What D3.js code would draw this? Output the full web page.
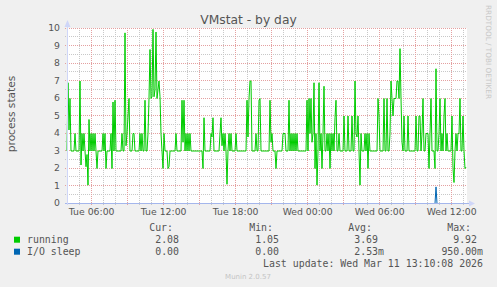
<!DOCTYPE html>
<html><head><meta charset="utf-8">
<script src="https://cdn.jsdelivr.net/npm/d3@7/dist/d3.min.js"></script>
<style>body{margin:0;background:#f0f0f0}svg{display:block}</style>
</head><body>
<svg id="c" width="497" height="287"></svg>
<script>
const title = "VMstat - by day";
const yAxisLabel = "process states";
const watermarkRight = "RRDTOOL / TOBI OETIKER";
const footer = "Munin 2.0.57";
const lastUpdate = "Last update: Wed Mar 11 13:10:08 2026";
const startTime = new Date(2026, 2, 10, 3, 56, 40);
const endTime = new Date(2026, 2, 11, 13, 16, 40);
const stepMinutes = 5;
const yTicks = [0,1,2,3,4,5,6,7,8,9,10];
const seriesNames = ["running", "I/O sleep"];
const seriesColors = ["#00cc00", "#0066b3"];
const statHeaders = ["Cur:", "Min:", "Avg:", "Max:"];
const statsRunning = ["2.08", "1.05", "3.69", "9.92"];
const statsIoSleep = ["0.00", "0.00", "2.53m", "950.00m"];

const running = [
3,6.9,4.2,6,3,3,3,3,4,3,3,3,3,7,2.2,4,3,4,3,2.1,
2.8,1.05,4.8,3,4,3,4,3,4,3,2,3,3,3,3,3,4,3,4,2,
3,3,3,3,4,2,5.8,3,5.9,3,3,3,3,3,3,4,3,3,9.75,3.3,
4,5,6,3,3,3,4,4,3,3,3,3,3,4,3,4,3,3,5.9,3,
3,4,6,8.8,6,6.1,9.95,6.1,6.5,9.8,6,6.5,7,6.1,4,3,2,4,3,3,
3,2,2.1,3,3,3,3,3,3,4,3,3,3,3,3,5.9,3.5,5.9,3,4,
3,4,3,4,3,3,3,3,3,3,3,3,3,3,3,3,2,4.9,3,3,
3,3,3,3,4,3.8,4.9,3,3,3,3,3,3,4,4.9,3.3,4,3,4,3,
1.1,3,4,3,4,3,3,3,3,4,3,3,3,3,3,3,3,3,3,3,
5.9,3.8,6,7,7,3,3,3,3,4,3,3,5.9,6,3,3,3,3,3,3,
3,3,3,5.9,3.5,4,3,3,3,2,3,3,3,3,3,3,4,4,4,3,
3,3,5.9,3,4,3,4,3,4,3,4,3,3,3,3,3,3,3,3,3,
5.9,3,6,4,6,3.5,4,6.9,2,4,1.05,3,6.9,3,4,2,4,6.7,3,3,
4,3,4,2,4,3,4,3,4.9,5.9,3,3,4,3,3,3,3,5,3,3,
3,5,3,3,3,5,3,3,7,4,3.8,5,3,1.05,4,3,3,3,4,3,
4,2,4,3,3,3,3,3,3,3,3,6,5,3,3,3,3,6,3,3,
6,3,3,4,7,6,5,6,6,6,7,7,6,8.85,6,3.5,3,5,3,3,
3,5,3,3,3,3,3,3,3,5,3,3,5,5,3,4,6,3,3,4,
4,4,2,4,6,3,3,3,2,7.7,3,3,4,6,3,4,3,5,6,3,
4,3,3,3,3,5,2,1.2,3,4,3,4,4,6,3,3,5,3,2,2.08
];
const ioSleep = [
0,0,0,0,0,0,0,0,0,0,0,0,0,0,0,0,0,0,0,0,
0,0,0,0,0,0,0,0,0,0,0,0,0,0,0,0,0,0,0,0,
0,0,0,0,0,0,0,0,0,0,0,0,0,0,0,0,0,0,0,0,
0,0,0,0,0,0,0,0,0,0,0,0,0,0,0,0,0,0,0,0,
0,0,0,0,0,0,0,0,0,0,0,0,0,0,0,0,0,0,0,0,
0,0,0,0,0,0,0,0,0,0,0,0,0,0,0,0,0,0,0,0,
0,0,0,0,0,0,0,0,0,0,0,0,0,0,0,0,0,0,0,0,
0,0,0,0,0,0,0,0,0,0,0,0,0,0,0,0,0,0,0,0,
0,0,0,0,0,0,0,0,0,0,0,0,0,0,0,0,0,0,0,0,
0,0,0,0,0,0,0,0,0,0,0,0,0,0,0,0,0,0,0,0,
0,0,0,0,0,0,0,0,0,0,0,0,0,0,0,0,0,0,0,0,
0,0,0,0,0,0,0,0,0,0,0,0,0,0,0,0,0,0,0,0,
0,0,0,0,0,0,0,0,0,0,0,0,0,0,0,0,0,0,0,0,
0,0,0,0,0,0,0,0,0,0,0,0,0,0,0,0,0,0,0,0,
0,0,0,0,0,0,0,0,0,0,0,0,0,0,0,0,0,0,0,0,
0,0,0,0,0,0,0,0,0,0,0,0,0,0,0,0,0,0,0,0,
0,0,0,0,0,0,0,0,0,0,0,0,0,0,0,0,0,0,0,0,
0,0,0,0,0,0,0,0,0,0,0,0,0,0,0,0,0,0,0,0,
0,0,0,0,0,0,0,0,0,0.95,0,0,0,0,0,0,0,0,0,0,
0,0,0,0,0,0,0,0,0,0,0,0,0,0,0,0,0,0,0,0
];

const svg = d3.select("#c");
const L = 67, R = 467, T = 28, B = 203;
const x = d3.scaleTime().domain([startTime, endTime]).range([L, R]);
const y = d3.scaleLinear().domain([0, 10]).range([B, T]);
const ySeries = d3.scaleLinear().domain([0, 10]).range([B + 0.5, T + 0.5]);
const tOf = i => new Date(+startTime + i * stepMinutes * 60000);
const crisp = v => Math.floor(v) + 0.5;
const sans = "'DejaVu Sans', sans-serif";
const mono = "'DejaVu Sans Mono', monospace";

svg.append("rect").attr("width", 497).attr("height", 287).attr("fill", "#f0f0f0");
svg.append("rect").attr("x", L).attr("y", T).attr("width", R - L).attr("height", B - T).attr("fill", "#fff");

// grid
const g = svg.append("g").attr("stroke-dasharray", "1,1").attr("stroke-width", 1).attr("shape-rendering", "crispEdges");
const minorY = d3.range(0.5, 10, 1);
g.selectAll(".hmin").data(minorY).join("line")
  .attr("x1", L - 2).attr("x2", R).attr("y1", d => crisp(y(d))).attr("y2", d => crisp(y(d)))
  .attr("stroke", "#c8c8c8");
const hours = d3.timeHour.every(1).range(startTime, endTime);
g.selectAll(".vmin").data(hours.filter(h => h.getHours() % 3 !== 0)).join("line")
  .attr("x1", d => crisp(x(d))).attr("x2", d => crisp(x(d))).attr("y1", T).attr("y2", B + 2)
  .attr("stroke", "#c8c8c8");
g.selectAll(".hmaj").data(yTicks.filter(v => v > 0)).join("line")
  .attr("x1", L - 2).attr("x2", R).attr("y1", d => crisp(y(d))).attr("y2", d => crisp(y(d)))
  .attr("stroke", "#e4a0a0");
g.selectAll(".vmaj").data(hours.filter(h => h.getHours() % 3 === 0)).join("line")
  .attr("x1", d => crisp(x(d))).attr("x2", d => crisp(x(d))).attr("y1", T).attr("y2", B + 2)
  .attr("stroke", "#e4a0a0");

// y tick labels
svg.append("g").selectAll("text").data(yTicks).join("text")
  .attr("x", 60).attr("y", d => y(d) + 3.4).attr("text-anchor", "end")
  .attr("font-family", sans).attr("font-size", 9.3).attr("fill", "#555").text(d => d);

// x labels
const labelTimes = hours.filter(h => h.getHours() % 6 === 0);
svg.append("g").selectAll("text").data(labelTimes).join("text")
  .attr("x", d => x(d)).attr("y", 215).attr("text-anchor", "middle")
  .attr("font-family", sans).attr("font-size", 9.3).attr("fill", "#555")
  .text(d => d3.timeFormat("%a %H:%M")(d));

// series
const line = d3.line().x((d, i) => x(tOf(i))).y(d => ySeries(d));
svg.append("path").attr("d", line(ioSleep)).attr("fill", "none").attr("stroke", seriesColors[1]).attr("stroke-width", 1);
svg.append("path").attr("d", line(running)).attr("fill", "none").attr("stroke", seriesColors[0]).attr("stroke-width", 1);

// axes
svg.append("line").attr("x1", L - 2).attr("x2", 470).attr("y1", B + 0.5).attr("y2", B + 0.5).attr("stroke", "#a4b6ec");
svg.append("line").attr("x1", L + 0.5).attr("x2", L + 0.5).attr("y1", B + 2).attr("y2", 25).attr("stroke", "#cfd6f8");
svg.append("path").attr("d", `M469,${B-2.5}L475,${B+0.5}L469,${B+3.5}Z`).attr("fill", "#cfd6f8");
svg.append("path").attr("d", `M${L-2.5},27L${L+0.5},20L${L+3.5},27Z`).attr("fill", "#cfd6f8");

// title
svg.append("text").attr("x", 248.5).attr("y", 24).attr("text-anchor", "middle")
  .attr("font-family", sans).attr("font-size", 12.3).attr("fill", "#555").text(title);

// y axis label
svg.append("text").attr("transform", "translate(15,114) rotate(-90)").attr("text-anchor", "middle")
  .attr("font-family", sans).attr("font-size", 10.6).attr("fill", "#555").text(yAxisLabel);

// right watermark
svg.append("text").attr("transform", "translate(486,5) rotate(90)").attr("text-anchor", "start")
  .attr("font-family", sans).attr("font-size", 7.3).attr("fill", "#c8c8c8").text(watermarkRight);

// legend
const lg = svg.append("g").attr("font-family", mono).attr("font-size", 9.9).attr("fill", "#555");
const colRight = [179, 279, 378, 477];
statHeaders.forEach((h, i) => lg.append("text").attr("x", colRight[i] - 6).attr("y", 230.5).attr("text-anchor", "end").text(h));
[statsRunning, statsIoSleep].forEach((row, r) => {
  const yy = 243 + r * 12;
  svg.append("rect").attr("x", 14).attr("y", yy - 6.3).attr("width", 6).attr("height", 6).attr("fill", seriesColors[r]);
  lg.append("text").attr("x", 27).attr("y", yy).text(seriesNames[r]);
  row.forEach((v, i) => {
    const hasUnit = /[a-zA-Z]$/.test(v);
    lg.append("text").attr("x", colRight[i] + (hasUnit ? 6 : 0)).attr("y", yy).attr("text-anchor", "end").text(v);
  });
});
lg.append("text").attr("x", 483).attr("y", 267).attr("text-anchor", "end").text(lastUpdate);

svg.append("text").attr("x", 248).attr("y", 279).attr("text-anchor", "middle")
  .attr("font-family", sans).attr("font-size", 7).attr("fill", "#c4c4c4").text(footer);
</script>
</body></html>
